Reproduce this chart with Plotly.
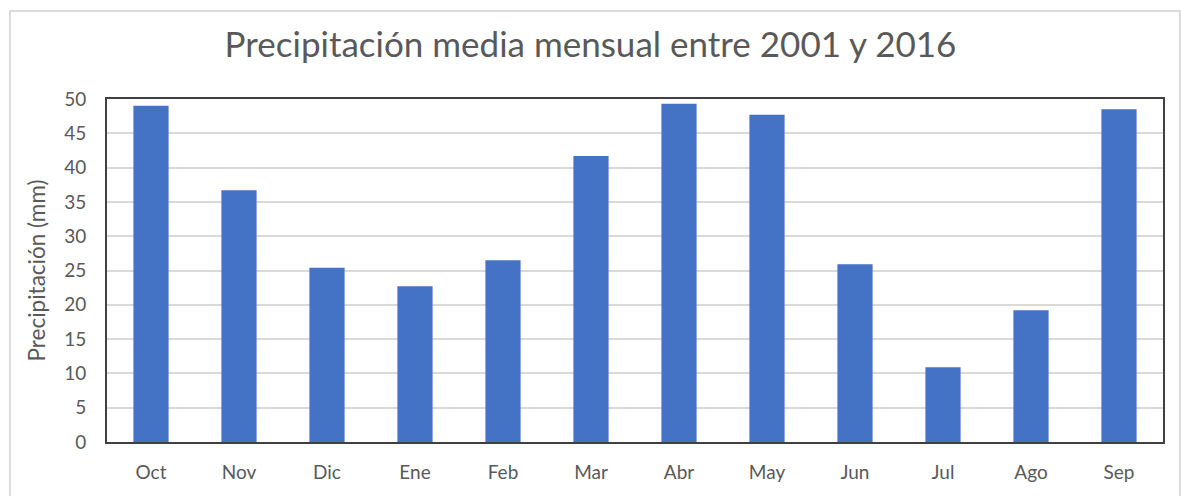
import plotly.graph_objects as go

months = ["Oct", "Nov", "Dic", "Ene", "Feb", "Mar", "Abr", "May", "Jun", "Jul", "Ago", "Sep"]
precip = [49.0, 36.7, 25.4, 22.7, 26.5, 41.7, 49.3, 47.7, 25.9, 10.9, 19.2, 48.5]
y_ticks = [0, 5, 10, 15, 20, 25, 30, 35, 40, 45, 50]

FONT = "Lato, 'Open Sans', sans-serif"
GREY = "#595959"

fig = go.Figure(go.Bar(x=months, y=precip, marker=dict(color="#4472C4", line=dict(width=0))))

fig.update_layout(
    width=1181, height=496,
    margin=dict(l=107, r=18, t=99, b=54),
    paper_bgcolor="white", plot_bgcolor="white",
    bargap=0.6,
    showlegend=False,
    font=dict(family=FONT, color=GREY, size=19),
    title=dict(text="Precipitación media mensual entre 2001 y 2016", x=0.5, xanchor="center",
               y=0.91, yanchor="middle", font=dict(family=FONT, size=35, color=GREY)),
)
fig.update_xaxes(showline=True, mirror=True, linecolor="#404040", linewidth=2,
                 showgrid=False, ticks="", tickfont=dict(size=19, color=GREY), ticklabelstandoff=12)
fig.update_yaxes(range=[0, 50], tickvals=y_ticks, showline=True, mirror=True, linecolor="#404040",
                 linewidth=2, showgrid=True, gridcolor="#D9D9D9", gridwidth=1.5, zeroline=False,
                 ticks="outside", ticklen=15, tickcolor="rgba(0,0,0,0)",
                 tickfont=dict(size=19, color=GREY),
                 title=dict(text="Precipitación (mm)", font=dict(size=22.5, color=GREY), standoff=12))

fig.add_shape(type="rect", xref="paper", yref="paper", x0=-0.0919, x1=1.016, y0=-0.2, y1=1.2566,
              line=dict(color="#D0D0D0", width=1.5), fillcolor="rgba(0,0,0,0)", layer="below")

fig.write_html("out.html")
